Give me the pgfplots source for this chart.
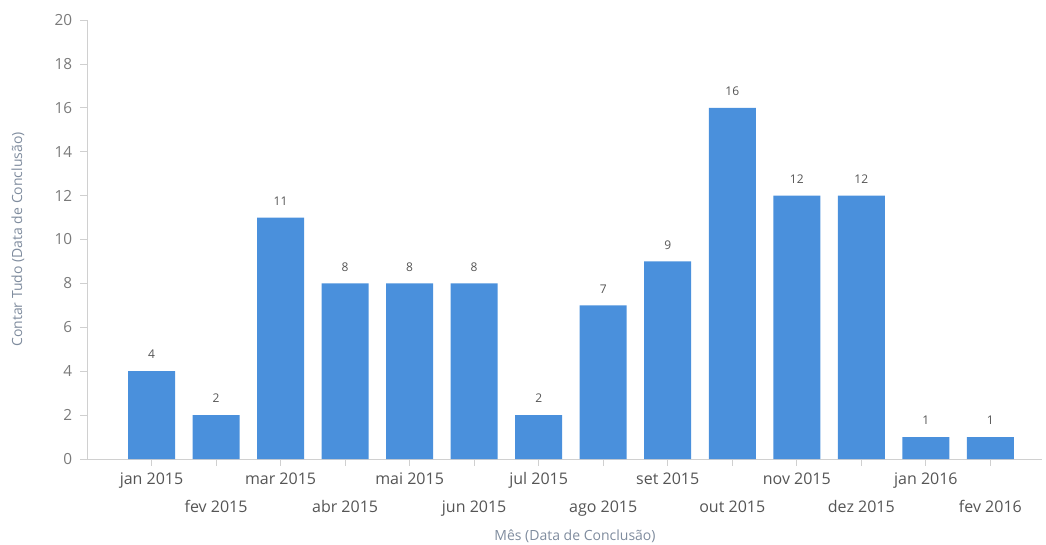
\documentclass[border=0pt]{standalone}
\usepackage{fontspec}
\setmainfont{Open Sans}
\usepackage{pgfplots}
\pgfplotsset{compat=1.18}
\definecolor{barblue}{HTML}{4A90DC}
\definecolor{ticktxt}{HTML}{555555}
\definecolor{ytxt}{HTML}{7A7A7A}
\definecolor{titletxt}{HTML}{7F8C9E}
\definecolor{axgray}{HTML}{D0D0D0}
\begin{document}
\begin{tikzpicture}
\path[use as bounding box] (-65.25pt,-63.75pt) rectangle (719.25pt,344.25pt);
\begin{axis}[
    at={(0pt,0pt)}, anchor=south west,
    scale only axis,
    width=716.25pt, height=329.25pt,
    /pgf/number format/assume math mode=true,
    xmin=-1, xmax=13.8,
    ymin=0, ymax=20,
    ytick={0,2,...,20},
    xtick={0,2,...,12},
    xticklabels={jan 2015, mar 2015, mai 2015, jul 2015, set 2015, nov 2015, jan 2016},
    extra x ticks={1,3,...,13},
    extra x tick labels={fev 2015, abr 2015, jun 2015, ago 2015, out 2015, dez 2015, fev 2016},
    extra x tick style={xticklabel style={yshift=-21pt}},
    axis x line*=bottom, axis y line*=left,
    axis line style={draw=axgray, line width=0.6pt, -},
    tick style={draw=axgray, line width=0.6pt},
    tick align=outside,
    xtick pos=bottom, ytick pos=left,
    major tick length=5pt,
    xticklabel style={font=\fontsize{12}{14}\selectfont, text=ticktxt, inner sep=0pt, anchor=north, yshift=-5pt},
    yticklabel style={font=\fontsize{11.5}{13}\selectfont, text=ytxt, inner sep=0pt, anchor=east, xshift=-6pt},
    xlabel={Mês (Data de Conclusão)},
    ylabel={Contar Tudo (Data de Conclusão)},
    xlabel style={font=\fontsize{10.5}{12}\selectfont, text=titletxt, at={(axis description cs:0,0)}, anchor=center, xshift=366pt, yshift=-57.75pt},
    ylabel style={font=\fontsize{10.5}{12}\selectfont, text=titletxt, at={(axis description cs:0,0.5)}, anchor=center, yshift=51.75pt},
    ybar, bar width=35.25pt,
    nodes near coords,
    every node near coord/.style={font=\fontsize{9}{10}\selectfont, text=ticktxt, inner sep=0pt, anchor=south, yshift=9pt},
]
\addplot[fill=barblue, draw=none] coordinates {
    (0,4) (1,2) (2,11) (3,8) (4,8) (5,8) (6,2) (7,7) (8,9) (9,16) (10,12) (11,12) (12,1) (13,1)
};
\end{axis}
\end{tikzpicture}
\end{document}
